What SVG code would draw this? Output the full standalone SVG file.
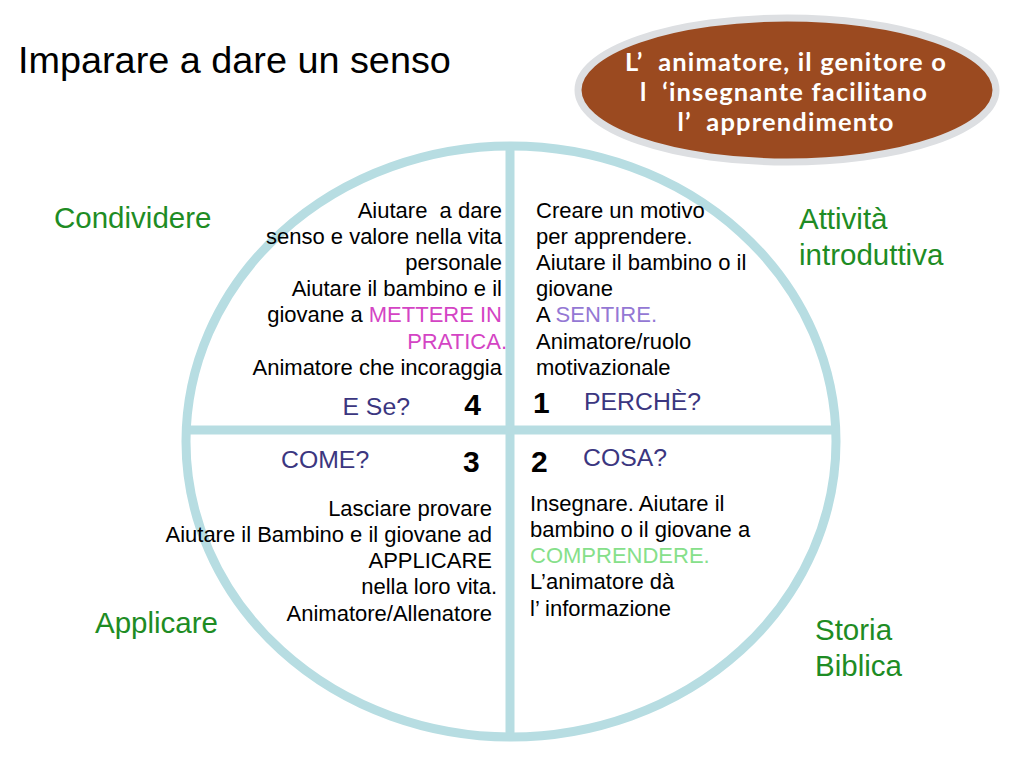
<svg xmlns="http://www.w3.org/2000/svg" width="1024" height="768" viewBox="0 0 1024 768">
<style>
.t{font-family:"Liberation Sans",Arial,sans-serif;font-size:22px;fill:#000}
.g{font-family:"Liberation Sans",Arial,sans-serif;font-size:29.5px;fill:#1e8c24}
.q{font-family:"Liberation Sans",Arial,sans-serif;font-size:24.8px;fill:#3b3680}
.n{font-family:"Liberation Sans",Arial,sans-serif;font-size:30px;font-weight:bold;fill:#000}
.w{font-family:Lato,"Open Sans",sans-serif;font-size:25.5px;font-weight:bold;fill:#fff;letter-spacing:1.15px}
.line{stroke:#b7dde2;stroke-width:9;fill:none}
</style>
<rect width="1024" height="768" fill="#fff"/>
<text x="18" y="73" font-family="Liberation Sans,Arial,sans-serif" font-size="37.8" fill="#000">Imparare a dare un senso</text>
<g id="connectors">
<ellipse class="line" cx="511" cy="441.5" rx="325" ry="295.5"/>
<line class="line" x1="510" y1="146" x2="510" y2="737"/>
<line class="line" x1="186" y1="430" x2="836" y2="430"/>
</g>
<g id="bubble">
<ellipse cx="787" cy="90" rx="209" ry="72" fill="#9b4a20" stroke="#dddfe2" stroke-width="7"/>
<text class="w" text-anchor="middle" x="786" y="71" xml:space="preserve">L’  animatore, il genitore o</text>
<text class="w" text-anchor="middle" x="784" y="101" xml:space="preserve">l  ‘insegnante facilitano</text>
<text class="w" text-anchor="middle" x="786" y="131" xml:space="preserve">l’  apprendimento</text>
</g>
<g id="condividere"><text class="g" x="54" y="228">Condividere</text></g>
<g id="attivita"><text class="g" x="799" y="229">Attività</text><text class="g" x="799" y="265">introduttiva</text></g>
<g id="applicare"><text class="g" x="95" y="633">Applicare</text></g>
<g id="storia"><text class="g" x="815" y="640">Storia</text><text class="g" x="815" y="676">Biblica</text></g>
<g id="q4" text-anchor="end">
<text class="t" x="502" y="218" xml:space="preserve">Aiutare  a dare</text>
<text class="t" x="502" y="244">senso e valore nella vita</text>
<text class="t" x="502" y="270">personale</text>
<text class="t" x="502" y="296">Aiutare il bambino e il</text>
<text class="t" x="502" y="322">giovane a <tspan style="fill:#d444c4">METTERE IN</tspan></text>
<text class="t" x="507" y="349" style="fill:#d444c4">PRATICA.</text>
<text class="t" x="502" y="375">Animatore che incoraggia</text>
<text class="q" x="410" y="415">E Se?</text>
<text class="n" x="481" y="415">4</text>
</g>
<g id="q1">
<text class="t" x="536" y="218">Creare un motivo</text>
<text class="t" x="536" y="244">per apprendere.</text>
<text class="t" x="536" y="270">Aiutare il bambino o il</text>
<text class="t" x="536" y="296">giovane</text>
<text class="t" x="536" y="322">A <tspan style="fill:#9478d4">SENTIRE.</tspan></text>
<text class="t" x="536" y="349">Animatore/ruolo</text>
<text class="t" x="536" y="375">motivazionale</text>
<text class="n" x="533" y="413">1</text>
<text class="q" x="584" y="410">PERCHÈ?</text>
</g>
<g id="q3">
<text class="q" x="281" y="468">COME?</text>
<text class="n" x="463" y="472">3</text>
<text class="t" text-anchor="end" x="492" y="516">Lasciare provare</text>
<text class="t" text-anchor="end" x="492" y="542">Aiutare il Bambino e il giovane ad</text>
<text class="t" text-anchor="end" x="492" y="568">APPLICARE</text>
<text class="t" text-anchor="end" x="497" y="594">nella loro vita.</text>
<text class="t" text-anchor="end" x="492" y="621">Animatore/Allenatore</text>
</g>
<g id="q2">
<text class="n" x="531" y="472">2</text>
<text class="q" x="583" y="466">COSA?</text>
<text class="t" x="530" y="511">Insegnare. Aiutare il</text>
<text class="t" x="530" y="537">bambino o il giovane a</text>
<text class="t" x="530" y="563" style="fill:#86e08a">COMPRENDERE.</text>
<text class="t" x="530" y="589">L’animatore dà</text>
<text class="t" x="530" y="616">l’ informazione</text>
</g>
</svg>
